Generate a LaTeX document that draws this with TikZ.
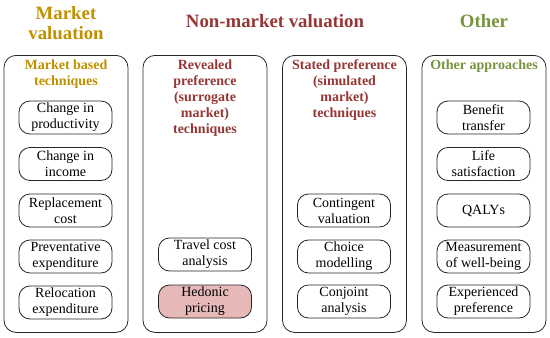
\documentclass[tikz,border=0pt]{standalone}
\usepackage{fontspec}
\setmainfont{Liberation Serif}
\definecolor{mgold}{HTML}{BF9000}
\definecolor{nmred}{HTML}{953735}
\definecolor{olgreen}{HTML}{77933C}
\definecolor{hedfill}{HTML}{E6B9B8}
\begin{document}
\begin{tikzpicture}[x=1pt,y=-1pt,
  colbox/.style={draw=black!85, rounded corners=12pt, line width=0.8pt, minimum width=124pt, minimum height=277pt, anchor=north},
  item/.style={draw=black!85, rounded corners=11pt, line width=0.8pt, minimum width=93pt, minimum height=33pt, align=center, inner sep=1pt, font=\fontsize{14}{16}\selectfont},
  head/.style={font=\bfseries\fontsize{18.8}{20.5}\selectfont, align=center},
  sub/.style={font=\bfseries\fontsize{14}{16}\selectfont, align=center}]
\useasboundingbox (0,0) rectangle (550,338);
% column boxes
\node[colbox] (c1) at (66,55) {};
\node[colbox] (c2) at (205,55) {};
\node[colbox] (c3) at (344.5,55) {};
\node[colbox] (c4) at (484,55) {};
% headings
\node[head, text=mgold] (h1) at (66,23) {Market\\valuation};
\node[head, text=nmred] (h2) at (275,21) {Non-market valuation};
\node[head, text=olgreen] (h3) at (484,21) {Other};
% sub headings
\node[sub, text=mgold] (s1) at (66,74) {Market based\\techniques};
\node[sub, text=nmred] (s2) at (205,98) {Revealed\\preference\\(surrogate\\market)\\techniques};
\node[sub, text=nmred] (s3) at (344.5,90) {Stated preference\\(simulated\\market)\\techniques};
\node[sub, text=olgreen] (s4) at (484,66) {Other approaches};
% column 1
\node[item] (a1) at (65.5,117.5) {Change in\\productivity};
\node[item] (a2) at (65.5,164) {Change in\\income};
\node[item] (a3) at (65.5,210.5) {Replacement\\cost};
\node[item] (a4) at (65.5,256.5) {Preventative\\expenditure};
\node[item] (a5) at (65.5,302.5) {Relocation\\expenditure};
% column 2
\node[item] (b1) at (205,254.5) {Travel cost\\analysis};
\node[item, fill=hedfill] (b2) at (205,301.5) {Hedonic\\pricing};
% column 3
\node[item] (d1) at (344,210.5) {Contingent\\valuation};
\node[item] (d2) at (344,256.5) {Choice\\modelling};
\node[item] (d3) at (344,301.5) {Conjoint\\analysis};
% column 4
\node[item] (e1) at (483.5,117.5) {Benefit\\transfer};
\node[item] (e2) at (483.5,164) {Life\\satisfaction};
\node[item] (e3) at (483.5,210.5) {QALYs};
\node[item] (e4) at (483.5,256.5) {Measurement\\of well-being};
\node[item] (e5) at (483.5,301.5) {Experienced\\preference};
\end{tikzpicture}
\end{document}
